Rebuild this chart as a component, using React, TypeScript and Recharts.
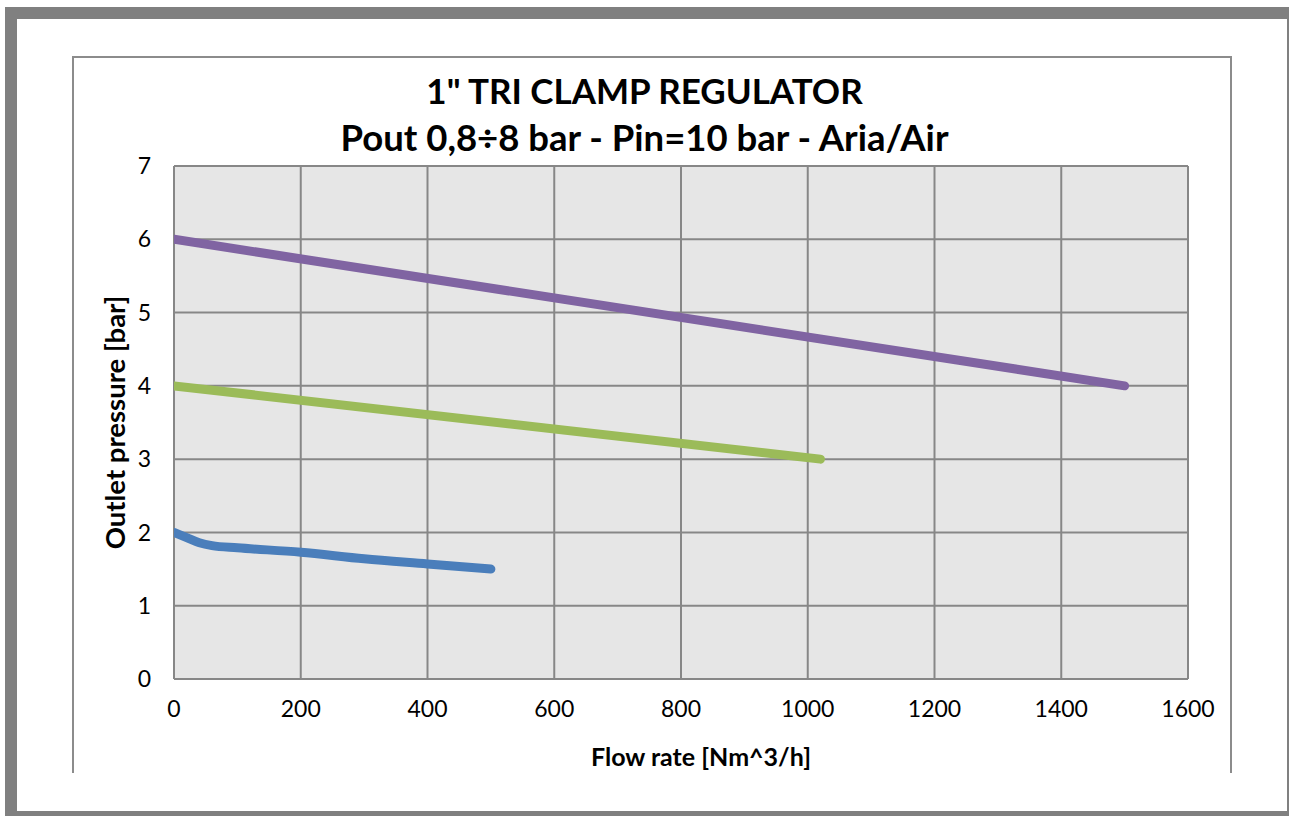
import React from "react";
import { LineChart, Line, XAxis, YAxis, CartesianGrid, Label } from "recharts";

const titleLine1 = '1" TRI CLAMP REGULATOR';
const titleLine2 = "Pout 0,8÷8 bar - Pin=10 bar - Aria/Air";
const xAxisTitle = "Flow rate [Nm^3/h]";
const yAxisTitle = "Outlet pressure [bar]";

const xTicks = [0, 200, 400, 600, 800, 1000, 1200, 1400, 1600];
const yTicks = [0, 1, 2, 3, 4, 5, 6, 7];

const seriesLow = [
  { flow: 0, p: 2.0 },
  { flow: 20, p: 1.93 },
  { flow: 40, p: 1.86 },
  { flow: 60, p: 1.82 },
  { flow: 100, p: 1.79 },
  { flow: 200, p: 1.73 },
  { flow: 300, p: 1.64 },
  { flow: 400, p: 1.57 },
  { flow: 500, p: 1.5 },
];
const seriesMid = [
  { flow: 0, p: 4.0 },
  { flow: 1020, p: 3.0 },
];
const seriesHigh = [
  { flow: 0, p: 6.0 },
  { flow: 1500, p: 4.0 },
];

const FONT = "Lato, 'Open Sans', sans-serif";

export default function App() {
  return (
    <div
      style={{
        position: "fixed",
        left: 0,
        top: 0,
        width: 1289,
        height: 816,
        background: "#ffffff",
        fontFamily: FONT,
        overflow: "hidden",
      }}
    >
      <div
        style={{
          position: "absolute",
          left: 5,
          top: 7,
          width: 1284,
          height: 809,
          boxSizing: "border-box",
          borderLeft: "12px solid #808080",
          borderTop: "12px solid #808080",
          borderRight: "2px solid #808080",
          borderBottom: "5px solid #808080",
        }}
      />
      <div
        style={{
          position: "absolute",
          left: 72,
          top: 56,
          width: 1160,
          height: 717,
          boxSizing: "border-box",
          borderLeft: "2px solid #8c8c8c",
          borderTop: "2px solid #8c8c8c",
          borderRight: "2px solid #8c8c8c",
        }}
      />
      <div style={{ position: "absolute", left: 0, top: 0 }}>
        <LineChart
          width={1289}
          height={816}
          margin={{ top: 166, right: 101, bottom: 97, left: 114 }}
        >
          <CartesianGrid
            fill="#e6e6e6"
            stroke="#878787"
            strokeWidth={2}
            strokeOpacity={1}
          />
          <XAxis
            type="number"
            dataKey="flow"
            domain={[0, 1600]}
            ticks={xTicks}
            allowDataOverflow
            height={40}
            axisLine={false}
            tickLine={false}
            tickSize={0}
            tickMargin={22}
            tick={{ fill: "#000", fontSize: 23, fontFamily: FONT }}
          >
            <Label
              value={xAxisTitle}
              position="insideBottom"
              offset={-47}
              dx={20}
              style={{ fill: "#000", fontSize: 25, fontWeight: 700, fontFamily: FONT }}
            />
          </XAxis>
          <YAxis
            type="number"
            dataKey="p"
            domain={[0, 7]}
            ticks={yTicks}
            allowDataOverflow
            width={60}
            axisLine={false}
            tickLine={false}
            tickSize={0}
            tickMargin={23}
            tick={{ fill: "#000", fontSize: 23, fontFamily: FONT }}
          >
            <Label
              value={yAxisTitle}
              angle={-90}
              position="insideLeft"
              offset={1}
              style={{
                fill: "#000",
                fontSize: 27.5,
                fontWeight: 700,
                fontFamily: FONT,
                textAnchor: "middle",
              }}
            />
          </YAxis>
          <Line
            data={seriesLow}
            dataKey="p"
            type="monotone"
            stroke="#4A7EBB"
            strokeWidth={9}
            strokeLinecap="round"
            strokeLinejoin="round"
            dot={false}
            isAnimationActive={false}
          />
          <Line
            data={seriesMid}
            dataKey="p"
            type="linear"
            stroke="#9BBB59"
            strokeWidth={9}
            strokeLinecap="round"
            dot={false}
            isAnimationActive={false}
          />
          <Line
            data={seriesHigh}
            dataKey="p"
            type="linear"
            stroke="#8064A2"
            strokeWidth={9}
            strokeLinecap="round"
            dot={false}
            isAnimationActive={false}
          />
        </LineChart>
      </div>
      <div
        style={{
          position: "absolute",
          left: 0,
          width: 1289,
          top: 67,
          textAlign: "center",
          fontFamily: FONT,
          fontWeight: 700,
          color: "#000",
        }}
      >
        <div style={{ fontSize: 35, lineHeight: "47px" }}>{titleLine1}</div>
        <div style={{ fontSize: 36.5, lineHeight: "47px" }}>{titleLine2}</div>
      </div>
    </div>
  );
}
